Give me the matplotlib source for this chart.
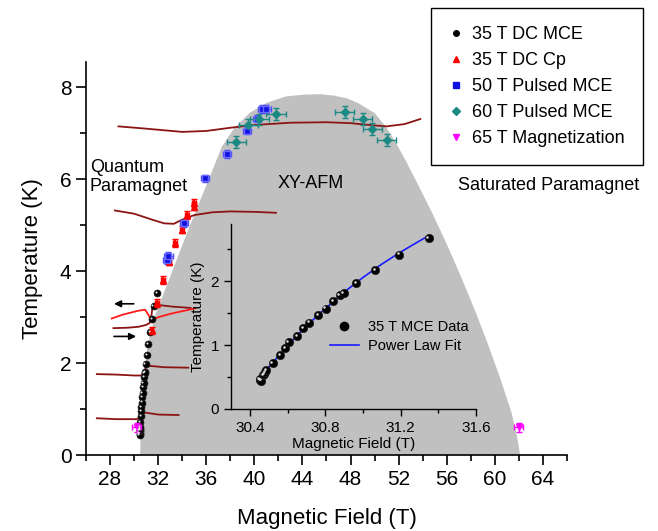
import numpy as np
import matplotlib
matplotlib.use("Agg")
import matplotlib.pyplot as plt
from matplotlib.lines import Line2D
from matplotlib.transforms import offset_copy
from matplotlib.ticker import MultipleLocator

plt.rcParams['font.family'] = ['Liberation Sans', 'DejaVu Sans']

# phase boundary (grey dome)
dome_field = [30.5, 30.6, 31.1, 31.8, 32.9, 33.95, 35.05, 36.2, 37.3, 38.3, 39.6, 41.0, 42.6, 44.1,
              45.5, 46.6, 47.7, 48.6, 50.0, 50.9, 51.7, 52.6, 53.4, 54.8, 56.1, 57.3, 58.45,
              59.5, 60.5, 61.4, 61.85, 62.1]
dome_temp = [0.0, 1.0, 2.36, 3.08, 3.81, 4.53, 5.26, 5.99, 6.71, 7.10, 7.44, 7.66, 7.80, 7.84,
             7.85, 7.82, 7.76, 7.66, 7.44, 7.15, 6.83, 6.40, 5.99, 5.26, 4.53, 3.81, 3.08,
             2.36, 1.63, 0.91, 0.40, 0.0]

# 35 T DC MCE (also the inset data)
mce_field = [30.452, 30.455, 30.460, 30.469, 30.476, 30.482, 30.485, 30.521, 30.560, 30.588, 30.606,
             30.649, 30.684, 30.713, 30.761, 30.802, 30.841, 30.876, 30.898, 30.965, 31.063, 31.191, 31.348]
mce_temp = [0.47, 0.45, 0.44, 0.53, 0.54, 0.57, 0.61, 0.71, 0.84, 0.95, 1.04,
            1.14, 1.26, 1.35, 1.47, 1.57, 1.69, 1.78, 1.81, 1.97, 2.17, 2.42, 2.68]
mce_extra_field = [31.50, 31.62, 31.92]
mce_extra_temp = [2.95, 3.24, 3.53]

# power law fit line
fit_field = [30.455, 30.5, 30.6, 30.7, 30.8, 30.9, 31.0, 31.1, 31.2, 31.35]
fit_temp = [0.44, 0.65, 0.99, 1.30, 1.57, 1.83, 2.06, 2.27, 2.46, 2.72]

# 35 T DC Cp
cp_field = [31.45, 31.92, 32.40, 32.94, 33.42, 33.97, 34.39, 34.94, 35.00]
cp_temp = [2.71, 3.31, 3.81, 4.21, 4.61, 4.90, 5.22, 5.40, 5.49]

# 50 T pulsed MCE
p50_field = [32.72, 32.85, 34.17, 35.92, 37.72, 39.39, 40.22, 40.64, 41.00]
p50_temp = [4.24, 4.33, 5.04, 6.02, 6.55, 7.06, 7.32, 7.53, 7.53]

# 60 T pulsed MCE
p60_field = [38.5, 39.5, 40.4, 41.8, 47.5, 49.0, 49.8, 51.0]
p60_temp = [6.80, 7.18, 7.30, 7.41, 7.46, 7.31, 7.09, 6.86]

# 65 T magnetization
mag_field = [30.2, 61.98]
mag_temp = [0.60, 0.60]

# MCE traces
trace1_field = [28.7, 31.0, 34.0, 36.0, 38.0, 40.0, 43.0, 46.0, 48.0, 50.0, 51.0, 52.5, 53.8]
trace1_temp = [7.15, 7.10, 7.03, 7.05, 7.12, 7.18, 7.23, 7.24, 7.22, 7.17, 7.15, 7.20, 7.31]
trace2_field = [28.4, 30.0, 31.5, 32.5, 33.3, 34.0, 35.0, 36.5, 38.0, 40.0, 41.8]
trace2_temp = [5.32, 5.25, 5.12, 5.04, 5.03, 5.12, 5.22, 5.28, 5.30, 5.29, 5.27]
trace3_field = [28.28, 29.5, 30.36, 31.0, 31.33, 31.45, 31.54, 31.75, 32.5, 33.14, 34.7]
trace3_temp = [2.76, 2.77, 2.79, 2.83, 2.88, 3.05, 3.25, 3.27, 3.25, 3.23, 3.20]
trace4_field = [28.14, 29.0, 30.36, 30.92, 31.19, 31.42, 31.6, 32.03, 33.14, 35.08]
trace4_temp = [2.97, 3.05, 3.14, 3.16, 3.05, 2.94, 2.95, 3.00, 3.08, 3.19]
trace5_field = [26.9, 28.5, 30.0, 30.6, 30.9, 31.05, 31.3, 32.5, 34.5]
trace5_temp = [1.76, 1.75, 1.73, 1.73, 1.85, 1.98, 1.94, 1.91, 1.90]
trace6_field = [26.9, 28.5, 30.2, 30.5, 30.7, 31.0, 32.0, 33.7]
trace6_temp = [0.80, 0.78, 0.78, 0.82, 0.91, 0.92, 0.88, 0.87]

dark_red = '#8b1515'
teal = '#1b8a84'

fig = plt.figure(figsize=(6.58, 5.31), dpi=100)
ax = fig.add_axes([0.1307, 0.1431, 0.7310, 0.7401])

ax.fill(dome_field, dome_temp, color='#c0c0c0', lw=0, zorder=0)

for f, t in [(trace1_field, trace1_temp), (trace2_field, trace2_temp), (trace3_field, trace3_temp),
             (trace5_field, trace5_temp), (trace6_field, trace6_temp)]:
    ax.plot(f, t, color=dark_red, lw=1.3, zorder=2)
ax.plot(trace4_field, trace4_temp, color='#ff1a1a', lw=1.3, zorder=2)

ax.annotate('', xy=(28.1, 3.29), xytext=(30.2, 3.29),
            arrowprops=dict(arrowstyle='-|>', color='black', lw=1.2, mutation_scale=10))
ax.annotate('', xy=(30.4, 2.58), xytext=(28.1, 2.58),
            arrowprops=dict(arrowstyle='-|>', color='black', lw=1.2, mutation_scale=10))


def spheres(a, xs, ys, size):
    a.plot(xs, ys, 'o', color='black', ms=size, mec='#202020', mew=0.5, zorder=4)
    hl = offset_copy(a.transData, fig=fig, x=-0.9, y=0.9, units='points')
    a.plot(xs, ys, 'o', color='#e0e0e0', ms=size * 0.3, mew=0, transform=hl, zorder=5)


all_f = mce_field + mce_extra_field
all_t = mce_temp + mce_extra_temp
spheres(ax, all_f, all_t, 5)

ax.errorbar(cp_field, cp_temp, xerr=0.15, yerr=0.08, fmt='^', color='red', ms=5,
            elinewidth=1.2, capsize=2, zorder=4)
ax.errorbar(p50_field, p50_temp, xerr=0.35, yerr=0.08, fmt='s', color='#1010e0', ms=5,
            mec='#6a6aff', ecolor='#4a4aff', elinewidth=1.0, capsize=2, zorder=4)
ax.errorbar(p60_field, p60_temp, xerr=0.8, yerr=0.13, fmt='D', color=teal, ms=4,
            elinewidth=1.0, capsize=2.5, zorder=4)
ax.errorbar(mag_field, mag_temp, xerr=0.35, yerr=0.1, fmt='v', color='magenta', ms=5,
            elinewidth=1.0, capsize=2, zorder=4)

ax.set_xlim(26, 66)
ax.set_ylim(0, 8.55)
ax.set_xticks(np.arange(28, 65, 4))
ax.xaxis.set_minor_locator(MultipleLocator(2))
ax.yaxis.set_major_locator(MultipleLocator(2))
ax.yaxis.set_minor_locator(MultipleLocator(1))
for s in ['top', 'right']:
    ax.spines[s].set_visible(False)
for s in ['left', 'bottom']:
    ax.spines[s].set_linewidth(1.2)
ax.tick_params(which='major', direction='out', length=7, width=1.2, labelsize=15)
ax.tick_params(which='minor', direction='out', length=4, width=1.2)
ax.set_facecolor('none')
ax.set_xlabel('Magnetic Field (T)', fontsize=16, labelpad=14)
ax.set_ylabel('Temperature (K)', fontsize=16, labelpad=12)

ax.text(26.33, 6.05, 'Quantum\nParamagnet', fontsize=13, ha='left', va='center', linespacing=1.15)
ax.text(44.7, 5.90, 'XY-AFM', fontsize=13, ha='center', va='center')
ax.text(56.9, 5.86, 'Saturated Paramagnet', fontsize=13, ha='left', va='center')

handles = [
    Line2D([], [], marker='o', ls='none', color='black', ms=4),
    Line2D([], [], marker='^', ls='none', color='red', ms=5),
    Line2D([], [], marker='s', ls='none', color='#1010e0', ms=4),
    Line2D([], [], marker='D', ls='none', color=teal, ms=4),
    Line2D([], [], marker='v', ls='none', color='magenta', ms=5),
]
labels = ['35 T DC MCE', '35 T DC Cp', '50 T Pulsed MCE', '60 T Pulsed MCE', '65 T Magnetization']
leg = fig.legend(handles, labels, loc='upper right', bbox_to_anchor=(643 / 658, 1 - 8 / 531),
                 fontsize=13, frameon=True, fancybox=False, edgecolor='black', framealpha=1,
                 borderaxespad=0, borderpad=1.0, handlelength=0.8, handletextpad=0.5,
                 labelspacing=0.5)
leg.get_frame().set_linewidth(1.0)

# inset
ins = fig.add_axes([231 / 658, 1 - 408.7 / 531, 245 / 658, 184.7 / 531])
ins.set_facecolor('none')
ins.plot(fit_field, fit_temp, color='#1a1aff', lw=1.2, zorder=3)
spheres(ins, mce_field, mce_temp, 6)
ins.set_xlim(30.3, 31.6)
ins.set_ylim(0, 2.9)
ins.set_xticks([30.4, 30.8, 31.2, 31.6])
ins.xaxis.set_minor_locator(MultipleLocator(0.2))
ins.yaxis.set_major_locator(MultipleLocator(1))
ins.yaxis.set_minor_locator(MultipleLocator(0.5))
for s in ['top', 'right']:
    ins.spines[s].set_visible(False)
for s in ['left', 'bottom']:
    ins.spines[s].set_linewidth(1.0)
ins.tick_params(which='major', direction='out', length=5, width=1.0, labelsize=11)
ins.tick_params(which='minor', direction='out', length=3, width=1.0)
ins.set_xlabel('Magnetic Field (T)', fontsize=11, labelpad=2)
ins.set_ylabel('Temperature (K)', fontsize=11, labelpad=4)

ih = [Line2D([], [], marker='o', ls='none', color='black', ms=6),
      Line2D([], [], color='#1a1aff', lw=1.2)]
ins.legend(ih, ['35 T MCE Data', 'Power Law Fit'], loc='center left', bbox_to_anchor=(0.35, 0.39),
           frameon=False, fontsize=10.5, handlelength=2.0, handletextpad=0.6, labelspacing=0.3)

fig.savefig('out.png', dpi=100)
